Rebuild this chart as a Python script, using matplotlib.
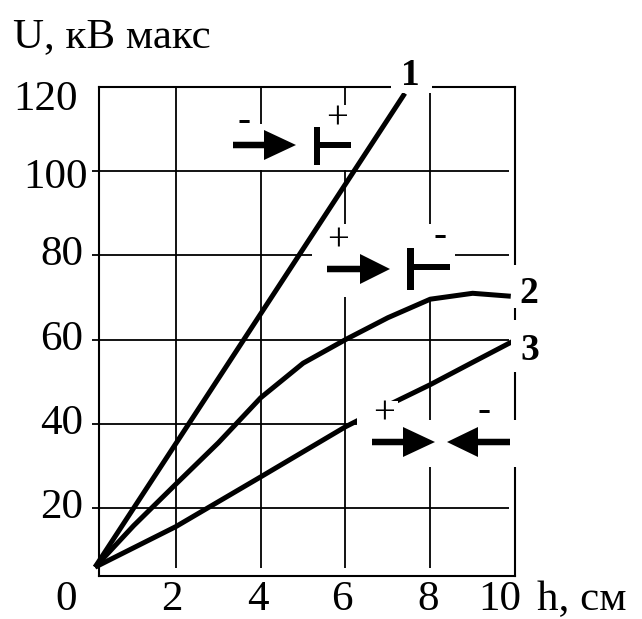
import matplotlib
matplotlib.use("Agg")
import matplotlib.pyplot as plt
from matplotlib.patches import Rectangle, Polygon
from matplotlib.transforms import Affine2D

# Breakdown voltage U (kV peak) versus gap length h (cm)
h1 = [0.09, 7.40]
u1 = [5.95, 118.5]

h2 = [0.09, 1.0, 2.0, 3.0, 4.0, 5.0, 6.0, 7.0, 8.0, 9.0, 9.9]
u2 = [5.95, 15.8, 25.7, 35.5, 46.2, 54.4, 60.0, 65.2, 69.6, 71.0, 70.3]

h3 = [0.09, 2.0, 4.0, 6.0, 7.0, 8.0, 9.0, 9.95]
u3 = [5.95, 15.6, 27.4, 39.3, 44.4, 49.3, 54.6, 59.6]

curve_labels = ["1", "2", "3"]
x_ticks = [2, 4, 6, 8, 10]
y_ticks = [20, 40, 60, 80, 100, 120]
x_title = "h, см"
y_title = "U, кВ макс"

W, H = 642, 619
FONT = "Liberation Serif"
plt.rcParams["font.family"] = [FONT, "DejaVu Serif"]

fig = plt.figure(figsize=(W / 100, H / 100), dpi=100)
ax_l, ax_r, ax_t, ax_b = 99.3, 515.0, 87.0, 576.0
ax = fig.add_axes([ax_l / W, 1 - ax_b / H, (ax_r - ax_l) / W, (ax_b - ax_t) / H])
x0, x1, y0, y1 = 0.19, 10.0, 3.85, 120.0
ax.set_xlim(x0, x1)
ax.set_ylim(y0, y1)
ax.set_xticks([])
ax.set_yticks([])
for s in ax.spines.values():
    s.set_linewidth(1.5)
    s.set_color("black")
    s.set_zorder(1.5)

px_x = (ax_r - ax_l) / (x1 - x0)   # pixels per cm
px_y = (ax_b - ax_t) / (y1 - y0)   # pixels per kV

# pixel coordinates measured from the top-left corner of the figure
P = Affine2D().scale(1 / W, -1 / H).translate(0, 1) + fig.transFigure

# grid: vertical lines stop short of the bottom edge, horizontal ones short of the right edge
ax.vlines(x_ticks[:-1], y0 + 8 / px_y, y1, colors="black", lw=1.3, zorder=1)
ax.hlines(y_ticks[:-1], x0 - 7 / px_x, x1 - 6 / px_x, colors="black", lw=1.3,
          zorder=1, clip_on=False)

# curves
lw = 3.6
for hh, uu in ((h1, u1), (h2, u2), (h3, u3)):
    ax.plot(hh, uu, color="black", lw=lw, zorder=3, solid_capstyle="butt",
            solid_joinstyle="round", clip_on=False)


def white_box(xa, ya, xb, yb, z):
    ax.add_patch(Rectangle((xa, ya), xb - xa, yb - ya, transform=P,
                           facecolor="white", edgecolor="none", zorder=z,
                           clip_on=False))


def arrow(x_tail, x_base, x_tip, yc, head=30, shaft=6.5):
    pts = [(x_tail, yc - shaft / 2), (x_base, yc - shaft / 2), (x_base, yc - head / 2),
           (x_tip, yc), (x_base, yc + head / 2), (x_base, yc + shaft / 2),
           (x_tail, yc + shaft / 2)]
    ax.add_patch(Polygon(pts, closed=True, transform=P, facecolor="black",
                         edgecolor="none", zorder=5, clip_on=False))


def plate(xa, xb, ya, yb, x_end, yc, thick=6.5):
    ax.add_patch(Rectangle((xa, ya), xb - xa, yb - ya, transform=P,
                           facecolor="black", edgecolor="none", zorder=5, clip_on=False))
    ax.add_patch(Rectangle((xb, yc - thick / 2), x_end - xb, thick, transform=P,
                           facecolor="black", edgecolor="none", zorder=5, clip_on=False))


SIGN_FS = 28
sign_shift = 0.25 * SIGN_FS * 100 / 72   # glyph centre above the baseline


def sign(s, xc, yc):
    ax.text(xc, yc + sign_shift, s, transform=P, ha="center", va="baseline",
            fontsize=SIGN_FS, family=FONT, zorder=6)


# electrode arrangements drawn on clear backgrounds
white_box(226, 124, 357, 170, 2)
white_box(325, 105, 350, 133, 2)
arrow(233, 264, 296, 145)
plate(314, 320, 127, 165, 351, 145)
sign("-", 244, 121)
sign("+", 337, 119)

white_box(312, 247, 455, 297, 2)
white_box(326, 224, 351, 256, 2)
white_box(428, 224, 452, 248, 2)
arrow(327, 360, 390, 269)
plate(407, 414, 248, 290, 450, 267)
sign("+", 338, 241)
sign("-", 440, 236)

white_box(366, 420, 518, 467, 4)
white_box(357, 401, 398, 430, 4)
white_box(472, 400, 496, 420, 4)
arrow(372, 403, 435, 442)
arrow(510, 478, 447, 442)
sign("+", 384, 414)
sign("-", 484, 411)

# curve numbers
num_pos = [(410, 85), (529, 303), (530, 360)]
num_box = [(391, 55, 432, 93), (511, 265, 545, 308), (511, 320, 545, 372)]
for lab, (xc, yb), (xa, ya, xb, ybb) in zip(curve_labels, num_pos, num_box):
    white_box(xa, ya, xb, ybb, 4)
    ax.text(xc, yb, lab, transform=P, ha="center", va="baseline", fontsize=27,
            fontweight="bold", family=FONT, zorder=6)

TICK_FS = 31
BASE_X = 610
# y tick labels
y_nudge = {100: (5, 7), 120: (-5, 13)}
for v in y_ticks:
    dx, dy = y_nudge.get(v, (0, 0))
    ax.annotate(str(v), xy=(x0, v), xycoords="data",
                xytext=(83 - ax_l + dx, -10 - dy), textcoords="offset pixels",
                ha="right", va="baseline", fontsize=TICK_FS, family=FONT,
                annotation_clip=False)

# x tick labels
x_nudge = {2: -4, 4: -3, 6: -4, 8: -2, 10: -15}
for v in x_ticks:
    ax.annotate(str(v), xy=(v, y0), xycoords="data",
                xytext=(x_nudge.get(v, 0), -(BASE_X - ax_b)), textcoords="offset pixels",
                ha="center", va="baseline", fontsize=TICK_FS, family=FONT,
                annotation_clip=False)
ax.text(66, BASE_X, "0", transform=P, ha="center", va="baseline",
        fontsize=TICK_FS, family=FONT)

# axis titles
ax.text(537, BASE_X, x_title, transform=P, ha="left", va="baseline",
        fontsize=TICK_FS, family=FONT)
ax.text(13, 47, y_title, transform=P, ha="left", va="baseline",
        fontsize=TICK_FS, family=FONT)

fig.savefig("out.png", dpi=100, facecolor="white")
